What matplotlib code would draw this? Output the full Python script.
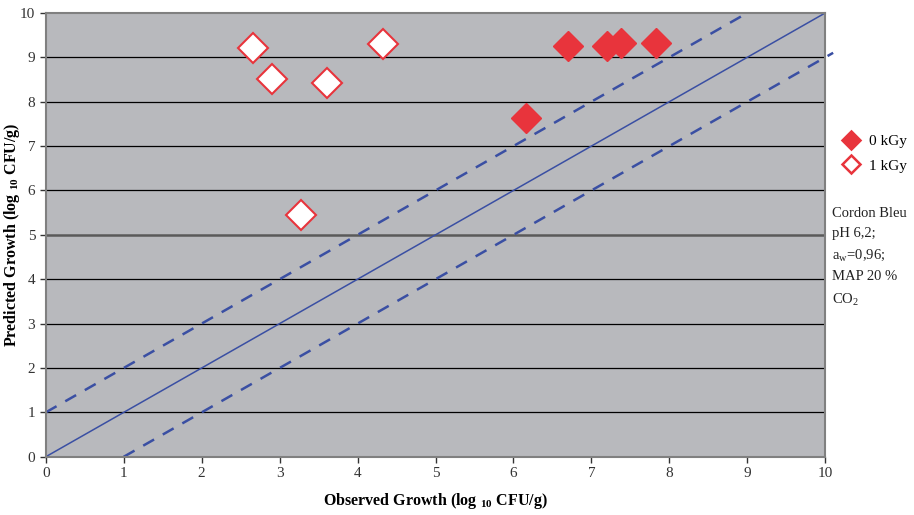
import numpy as np
import matplotlib.pyplot as plt

plt.rcParams['font.family'] = ['Liberation Serif', 'DejaVu Serif']
plt.rcParams['mathtext.fontset'] = 'custom'
plt.rcParams['mathtext.rm'] = 'Liberation Serif'
plt.rcParams['mathtext.bf'] = 'Liberation Serif:bold'

# observed vs predicted growth, log10 CFU/g
obs_0kgy = [6.16, 6.70, 7.20, 7.38, 7.83]
pred_0kgy = [7.63, 9.26, 9.26, 9.33, 9.33]
obs_1kgy = [2.66, 2.90, 3.61, 4.33, 3.27]
pred_1kgy = [9.21, 8.50, 8.43, 9.31, 5.45]

red = '#e8343c'
blue = '#3a4fa3'

fig = plt.figure(figsize=(9.14, 5.15), dpi=100)
ax = fig.add_axes([0.050, 0.113, 0.853, 0.862])
ax.set_facecolor('#b8b9bd')

for y in range(1, 10):
    if y == 5:
        ax.axhline(y, color='#5a5a5a', lw=1.8, zorder=1)
    else:
        ax.axhline(y, color='black', lw=0.9, zorder=1)

# line of equality and +/- 1 log bands
ax.plot([0, 10], [0, 10], color=blue, lw=1.1, zorder=2)
ax.plot([0, 9], [1, 10], color=blue, lw=1.8, dashes=(5, 4), zorder=2, clip_on=False)
ax.plot([1, 10.1], [0, 9.1], color=blue, lw=1.8, dashes=(5, 4), zorder=2, clip_on=False)

ax.plot(obs_0kgy, pred_0kgy, 'D', ms=15, color=red, mec=red, zorder=3, label='0 kGy')
ax.plot(obs_1kgy, pred_1kgy, 'D', ms=15, mfc='white', mec=red, mew=1.5, zorder=3, label='1 kGy')

ax.set_xlim(0, 10)
ax.set_ylim(0, 10)
ax.set_xticks(range(11))
ax.set_yticks(range(11))
ax.tick_params(labelsize=11, colors='#333333', length=4, width=1, direction='out')
for s in ax.spines.values():
    s.set_color('#808080')
    s.set_linewidth(1.5)

ax.set_xlabel(r'Observed Growth (log $_{\mathbf{10}}$ CFU/g)', fontsize=11.5, fontweight='bold', labelpad=8)
ax.set_ylabel(r'Predicted Growth (log $_{\mathbf{10}}$ CFU/g)', fontsize=11.5, fontweight='bold')
ax.yaxis.set_label_coords(-0.030, 0.5)

leg = ax.legend(loc='center left', bbox_to_anchor=(1.005, 0.683), frameon=False,
                fontsize=11, handletextpad=0.2, markerscale=0.6, borderaxespad=0, labelspacing=0.7)
for h in leg.legend_handles:
    h.set_markeredgewidth(1.8)

fig.text(0.910, 0.598, 'Cordon Bleu\npH 6,2;\na$_\\mathrm{w}$=0,96;\nMAP 20 %\nCO$_2$',
         fontsize=10.5, va='top', ha='left', linespacing=1.65, color='#222222')

fig.savefig('out.png', dpi=100)
